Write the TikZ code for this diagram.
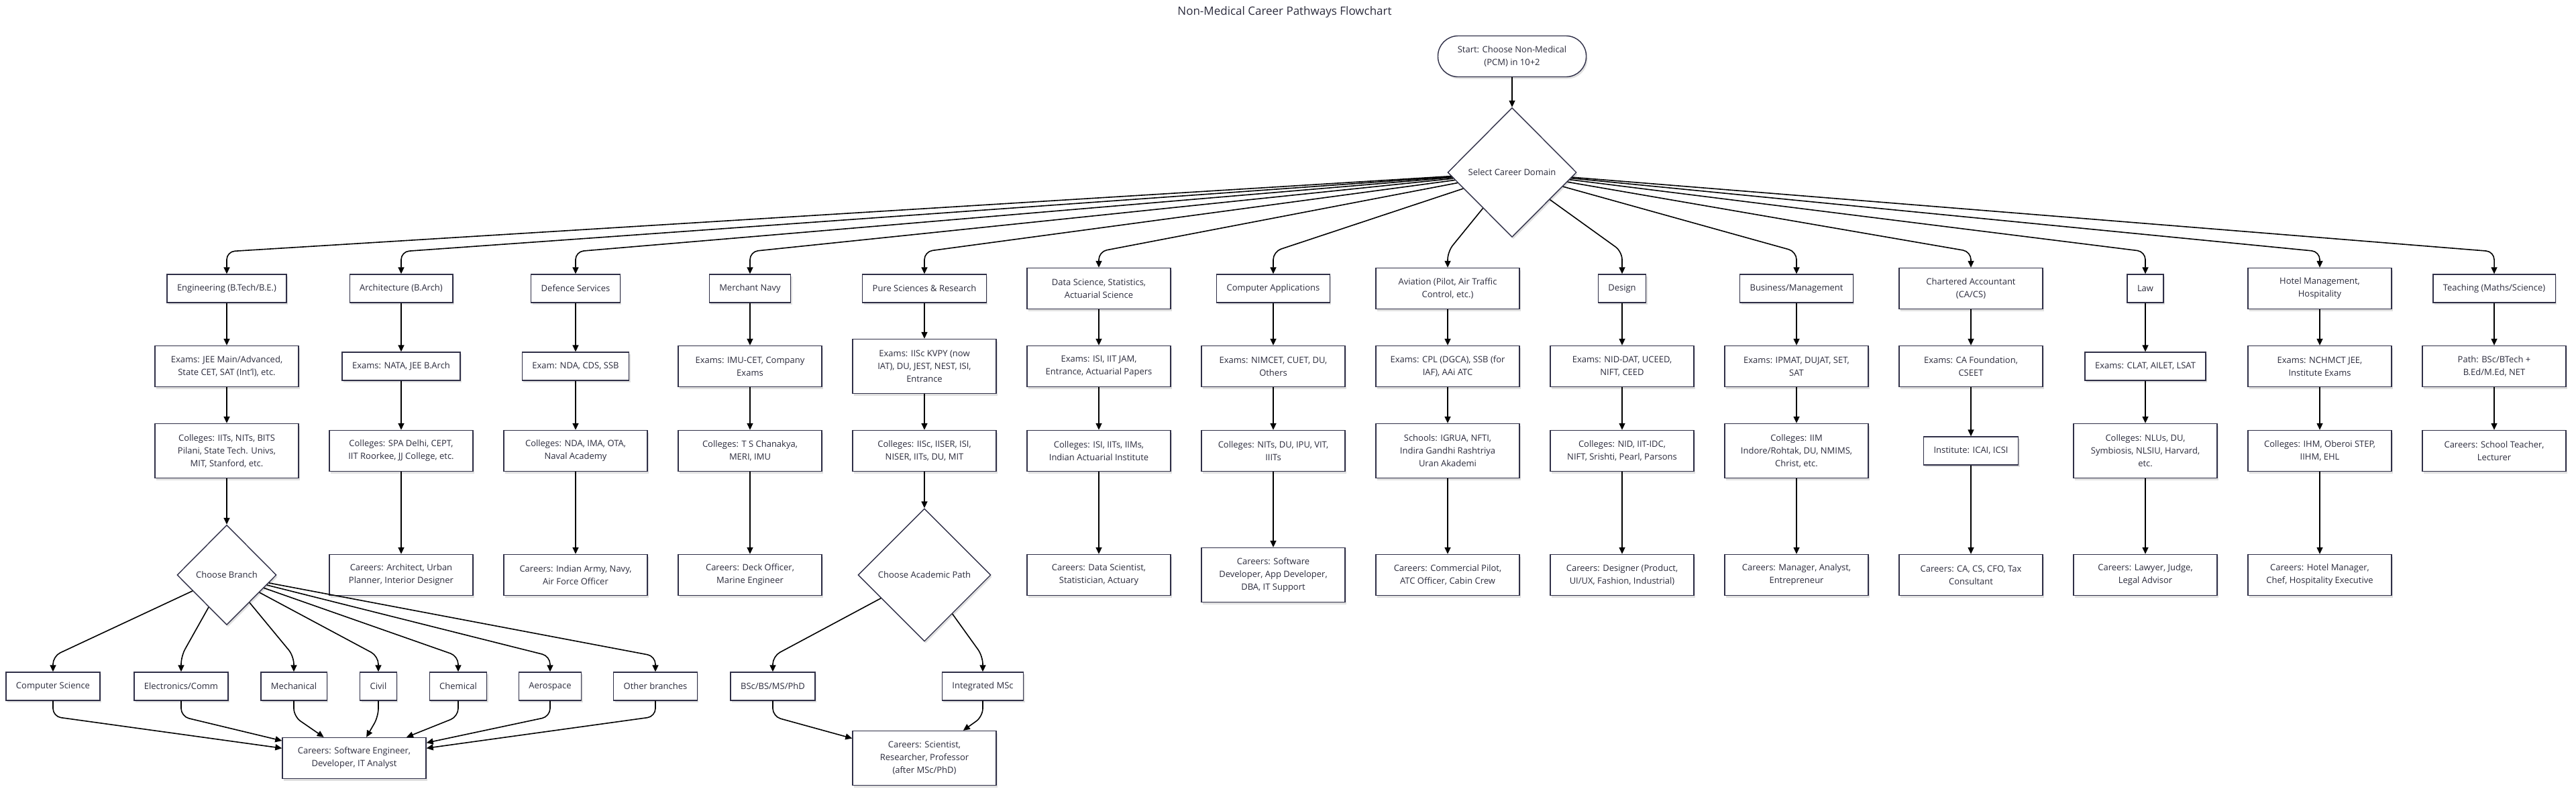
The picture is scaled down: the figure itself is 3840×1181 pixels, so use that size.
\documentclass[tikz,border=0pt]{standalone}
\usepackage{fontspec}
\setmainfont{Open Sans}
\usetikzlibrary{arrows.meta,shapes.geometric,shadows}
\definecolor{nodeline}{HTML}{2F2F47}
\definecolor{nodetext}{HTML}{2B2B3C}
\tikzset{
 box/.style={draw=nodeline,line width=1.4pt,fill=white,text=nodetext,align=center,
  font=\fontsize{13}{19}\selectfont,inner xsep=15pt,inner ysep=4pt,minimum height=42pt,
  drop shadow={shadow xshift=2pt,shadow yshift=-3pt,fill=black!12,opacity=1}},
 box2/.style={box,minimum width=214pt,minimum height=61pt},
 box3/.style={box,minimum width=214pt,minimum height=81pt},
 pill/.style={box,rounded corners=30pt,minimum width=221pt,minimum height=61pt},
 choice/.style={box,diamond,inner sep=0pt},
 arr/.style={line width=1.6pt,rounded corners=12pt,-{Triangle[length=10pt,width=9pt]}},
 title/.style={text=nodetext,font=\fontsize{17}{20}\selectfont}
}
\begin{document}
\begin{tikzpicture}[x=1pt,y=-1pt]
 \fill[white](0,0) rectangle (3840,1181);
 \useasboundingbox (0,0) rectangle (3840,1181);
 \node[title] (head) at (1915,18) {Non-Medical Career Pathways Flowchart};
 \node[pill] (start) at (2254,84) {Start: Choose Non-Medical\\(PCM) in 10+2};
 \node[choice,minimum width=192pt,minimum height=193pt] (dom) at (2254,257) {Select Career Domain};
 % domains
 \node[box] (eng) at (338,430) {Engineering (B.Tech/B.E.)};
 \node[box] (arch) at (598,430) {Architecture (B.Arch)};
 \node[box] (def) at (858,430) {Defence Services};
 \node[box] (navy) at (1118,430) {Merchant Navy};
 \node[box] (sci) at (1378,430) {Pure Sciences \& Research};
 \node[box2] (data) at (1638,430) {Data Science, Statistics,\\Actuarial Science};
 \node[box] (comp) at (1898,430) {Computer Applications};
 \node[box2] (avi) at (2158,430) {Aviation (Pilot, Air Traffic\\Control, etc.)};
 \node[box] (des) at (2418,430) {Design};
 \node[box] (bus) at (2678,430) {Business/Management};
 \node[box2] (ca) at (2938,430) {Chartered Accountant\\(CA/CS)};
 \node[box] (law) at (3198,430) {Law};
 \node[box2] (hotel) at (3458,430) {Hotel Management,\\Hospitality};
 \node[box] (teach) at (3718,430) {Teaching (Maths/Science)};
 % exams
 \node[box2] (eng-exam) at (338,546) {Exams: JEE Main/Advanced,\\State CET, SAT (Int'l), etc.};
 \node[box] (arch-exam) at (598,546) {Exams: NATA, JEE B.Arch};
 \node[box] (def-exam) at (858,546) {Exam: NDA, CDS, SSB};
 \node[box2] (navy-exam) at (1118,546) {Exams: IMU-CET, Company\\Exams};
 \node[box3] (sci-exam) at (1378,546) {Exams: IISc KVPY (now\\IAT), DU, JEST, NEST, ISI,\\Entrance};
 \node[box2] (data-exam) at (1638,546) {Exams: ISI, IIT JAM,\\Entrance, Actuarial Papers};
 \node[box2] (comp-exam) at (1898,546) {Exams: NIMCET, CUET, DU,\\Others};
 \node[box2] (avi-exam) at (2158,546) {Exams: CPL (DGCA), SSB (for\\IAF), AAi ATC};
 \node[box2] (des-exam) at (2418,546) {Exams: NID-DAT, UCEED,\\NIFT, CEED};
 \node[box2] (bus-exam) at (2678,546) {Exams: IPMAT, DUJAT, SET,\\SAT};
 \node[box2] (ca-exam) at (2938,546) {Exams: CA Foundation,\\CSEET};
 \node[box] (law-exam) at (3198,546) {Exams: CLAT, AILET, LSAT};
 \node[box2] (hotel-exam) at (3458,546) {Exams: NCHMCT JEE,\\Institute Exams};
 \node[box2] (teach-path) at (3718,546) {Path: BSc/BTech +\\B.Ed/M.Ed, NET};
 % colleges
 \node[box3] (eng-col) at (338,672) {Colleges: IITs, NITs, BITS\\Pilani, State Tech. Univs,\\MIT, Stanford, etc.};
 \node[box2] (arch-col) at (598,672) {Colleges: SPA Delhi, CEPT,\\IIT Roorkee, JJ College, etc.};
 \node[box2] (def-col) at (858,672) {Colleges: NDA, IMA, OTA,\\Naval Academy};
 \node[box2] (navy-col) at (1118,672) {Colleges: T S Chanakya,\\MERI, IMU};
 \node[box2] (sci-col) at (1378,672) {Colleges: IISc, IISER, ISI,\\NISER, IITs, DU, MIT};
 \node[box2] (data-col) at (1638,672) {Colleges: ISI, IITs, IIMs,\\Indian Actuarial Institute};
 \node[box2] (comp-col) at (1898,672) {Colleges: NITs, DU, IPU, VIT,\\IIITs};
 \node[box3] (avi-col) at (2158,672) {Schools: IGRUA, NFTI,\\Indira Gandhi Rashtriya\\Uran Akademi};
 \node[box2] (des-col) at (2418,672) {Colleges: NID, IIT-IDC,\\NIFT, Srishti, Pearl, Parsons};
 \node[box3] (bus-col) at (2678,672) {Colleges: IIM\\Indore/Rohtak, DU, NMIMS,\\Christ, etc.};
 \node[box] (ca-col) at (2938,672) {Institute: ICAI, ICSI};
 \node[box3] (law-col) at (3198,672) {Colleges: NLUs, DU,\\Symbiosis, NLSIU, Harvard,\\etc.};
 \node[box2] (hotel-col) at (3458,672) {Colleges: IHM, Oberoi STEP,\\IIHM, EHL};
 \node[box2] (teach-car) at (3718,672) {Careers: School Teacher,\\Lecturer};
 % careers
 \node[choice,minimum width=148pt,minimum height=149pt] (branch) at (338,857) {Choose Branch};
 \node[box2] (arch-car) at (598,857) {Careers: Architect, Urban\\Planner, Interior Designer};
 \node[box2] (def-car) at (858,857) {Careers: Indian Army, Navy,\\Air Force Officer};
 \node[box2] (navy-car) at (1118,857) {Careers: Deck Officer,\\Marine Engineer};
 \node[choice,minimum width=198pt,minimum height=198pt] (track) at (1378,857) {Choose Academic Path};
 \node[box2] (data-car) at (1638,857) {Careers: Data Scientist,\\Statistician, Actuary};
 \node[box3] (comp-car) at (1898,857) {Careers: Software\\Developer, App Developer,\\DBA, IT Support};
 \node[box2] (avi-car) at (2158,857) {Careers: Commercial Pilot,\\ATC Officer, Cabin Crew};
 \node[box2] (des-car) at (2418,857) {Careers: Designer (Product,\\UI/UX, Fashion, Industrial)};
 \node[box2] (bus-car) at (2678,857) {Careers: Manager, Analyst,\\Entrepreneur};
 \node[box2] (ca-car) at (2938,857) {Careers: CA, CS, CFO, Tax\\Consultant};
 \node[box2] (law-car) at (3198,857) {Careers: Lawyer, Judge,\\Legal Advisor};
 \node[box2] (hotel-car) at (3458,857) {Careers: Hotel Manager,\\Chef, Hospitality Executive};
 % branches
 \node[box] (cs) at (79,1023) {Computer Science};
 \node[box] (ece) at (270,1023) {Electronics/Comm};
 \node[box] (mech) at (438,1023) {Mechanical};
 \node[box] (civil) at (564,1023) {Civil};
 \node[box] (chem) at (683,1023) {Chemical};
 \node[box] (aero) at (820,1023) {Aerospace};
 \node[box] (other) at (977,1023) {Other branches};
 \node[box] (bsc) at (1152,1023) {BSc/BS/MS/PhD};
 \node[box] (imsc) at (1465,1023) {Integrated MSc};
 \node[box2] (soft) at (528,1130) {Careers: Software Engineer,\\Developer, IT Analyst};
 \node[box3] (sci-car) at (1378,1130) {Careers: Scientist,\\Researcher, Professor\\(after MSc/PhD)};
 % connectors
 \draw[arr] (start) -- (dom);
 \draw[arr] (dom) -- (338,375) -- (eng);
 \draw[arr] (dom) -- (598,375) -- (arch);
 \draw[arr] (dom) -- (858,375) -- (def);
 \draw[arr] (dom) -- (1118,375) -- (navy);
 \draw[arr] (dom) -- (1378,375) -- (sci);
 \draw[arr] (dom) -- (1638,375) -- (data);
 \draw[arr] (dom) -- (1898,375) -- (comp);
 \draw[arr] (dom) -- (2158,375) -- (avi);
 \draw[arr] (dom) -- (2418,375) -- (des);
 \draw[arr] (dom) -- (2678,375) -- (bus);
 \draw[arr] (dom) -- (2938,375) -- (ca);
 \draw[arr] (dom) -- (3198,375) -- (law);
 \draw[arr] (dom) -- (3458,375) -- (hotel);
 \draw[arr] (dom) -- (3718,375) -- (teach);
 \draw[arr] (eng) -- (eng-exam); \draw[arr] (eng-exam) -- (eng-col); \draw[arr] (eng-col) -- (branch);
 \draw[arr] (arch) -- (arch-exam); \draw[arr] (arch-exam) -- (arch-col); \draw[arr] (arch-col) -- (arch-car);
 \draw[arr] (def) -- (def-exam); \draw[arr] (def-exam) -- (def-col); \draw[arr] (def-col) -- (def-car);
 \draw[arr] (navy) -- (navy-exam); \draw[arr] (navy-exam) -- (navy-col); \draw[arr] (navy-col) -- (navy-car);
 \draw[arr] (sci) -- (sci-exam); \draw[arr] (sci-exam) -- (sci-col); \draw[arr] (sci-col) -- (track);
 \draw[arr] (data) -- (data-exam); \draw[arr] (data-exam) -- (data-col); \draw[arr] (data-col) -- (data-car);
 \draw[arr] (comp) -- (comp-exam); \draw[arr] (comp-exam) -- (comp-col); \draw[arr] (comp-col) -- (comp-car);
 \draw[arr] (avi) -- (avi-exam); \draw[arr] (avi-exam) -- (avi-col); \draw[arr] (avi-col) -- (avi-car);
 \draw[arr] (des) -- (des-exam); \draw[arr] (des-exam) -- (des-col); \draw[arr] (des-col) -- (des-car);
 \draw[arr] (bus) -- (bus-exam); \draw[arr] (bus-exam) -- (bus-col); \draw[arr] (bus-col) -- (bus-car);
 \draw[arr] (ca) -- (ca-exam); \draw[arr] (ca-exam) -- (ca-col); \draw[arr] (ca-col) -- (ca-car);
 \draw[arr] (law) -- (law-exam); \draw[arr] (law-exam) -- (law-col); \draw[arr] (law-col) -- (law-car);
 \draw[arr] (hotel) -- (hotel-exam); \draw[arr] (hotel-exam) -- (hotel-col); \draw[arr] (hotel-col) -- (hotel-car);
 \draw[arr] (teach) -- (teach-path); \draw[arr] (teach-path) -- (teach-car);
 \draw[arr] (branch) -- (79,978) -- (cs);
 \draw[arr] (branch) -- (270,978) -- (ece);
 \draw[arr] (branch) -- (438,978) -- (mech);
 \draw[arr] (branch) -- (564,978) -- (civil);
 \draw[arr] (branch) -- (683,978) -- (chem);
 \draw[arr] (branch) -- (820,978) -- (aero);
 \draw[arr] (branch) -- (977,978) -- (other);
 \draw[arr] (cs) -- (79,1068) -- (soft);
 \draw[arr] (ece) -- (270,1068) -- (soft);
 \draw[arr] (mech) -- (438,1068) -- (soft);
 \draw[arr] (civil) -- (564,1068) -- (soft);
 \draw[arr] (chem) -- (683,1068) -- (soft);
 \draw[arr] (aero) -- (820,1068) -- (soft);
 \draw[arr] (other) -- (977,1068) -- (soft);
 \draw[arr] (track) -- (1152,978) -- (bsc);
 \draw[arr] (track) -- (1465,978) -- (imsc);
 \draw[arr] (bsc) -- (1152,1068) -- (sci-car);
 \draw[arr] (imsc) -- (1465,1068) -- (sci-car);
\end{tikzpicture}
\end{document}
